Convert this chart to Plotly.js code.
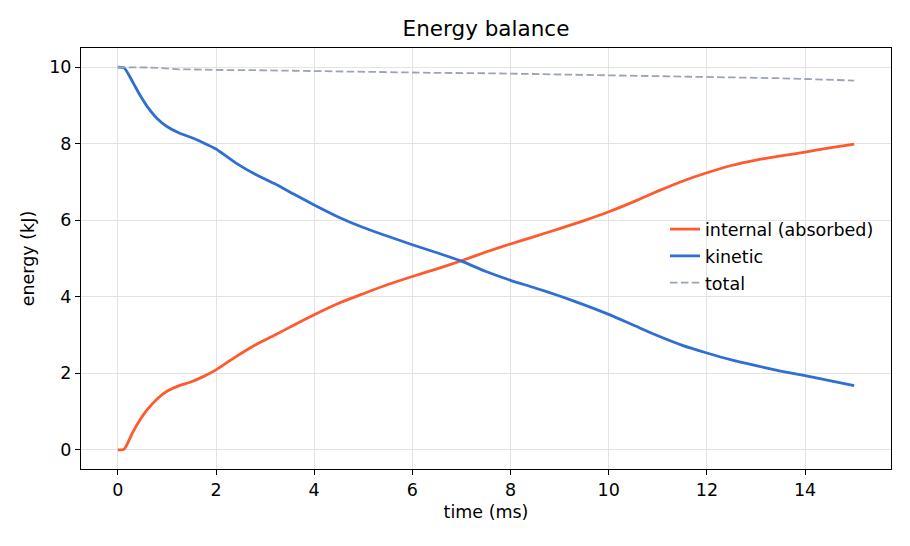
<!DOCTYPE html>
<html>
<head>
<meta charset="utf-8">
<script src="https://cdn.plot.ly/plotly-3.0.1.min.js"></script>
<style>
  body { margin: 0; background: #fff; }
  #chart { width: 910px; height: 546px; }
</style>
</head>
<body>
<div id="chart"></div>
<script>
// time in ms
const timeMs = [0, 0.13, 0.3, 0.45, 0.6, 0.8, 1.0, 1.25, 1.5, 1.75, 2, 2.4, 2.8, 3.2, 3.6, 4,
	4.5, 5, 5.5, 6, 6.5, 7, 7.5, 8, 8.5, 9, 9.5, 10, 10.5, 11, 11.5, 12, 12.5, 13, 13.5, 14, 14.5, 15];

// energies in kJ
const internalKJ = [0, 0.02, 0.45, 0.78, 1.05, 1.33, 1.53, 1.68, 1.78, 1.92, 2.09, 2.43, 2.74, 3.0, 3.27, 3.53,
	3.83, 4.08, 4.32, 4.53, 4.73, 4.94, 5.17, 5.38, 5.58, 5.78, 5.99, 6.22, 6.48, 6.76, 7.02, 7.24, 7.43, 7.57, 7.68, 7.78, 7.89, 7.99];
const kineticKJ = [10, 9.98, 9.62, 9.27, 8.97, 8.66, 8.45, 8.28, 8.16, 8.02, 7.86, 7.5, 7.2, 6.95, 6.67, 6.40,
	6.08, 5.81, 5.58, 5.36, 5.15, 4.93, 4.66, 4.43, 4.23, 4.02, 3.79, 3.54, 3.26, 2.98, 2.73, 2.53, 2.35, 2.2, 2.06, 1.94, 1.81, 1.68];
const totalKJ = [10, 10, 10, 10, 9.99, 9.98, 9.96, 9.94, 9.94, 9.93, 9.93, 9.92, 9.92, 9.91, 9.91, 9.90,
	9.89, 9.88, 9.87, 9.86, 9.85, 9.85, 9.84, 9.83, 9.82, 9.82, 9.81, 9.80, 9.79, 9.78, 9.77, 9.76, 9.74, 9.73, 9.71, 9.69, 9.67, 9.65];

const xTicks = [0, 2, 4, 6, 8, 10, 12, 14];
const yTicks = [0, 2, 4, 6, 8, 10];

let internalTrace = {
	x: timeMs, y: internalKJ,
	type: 'scatter', mode: 'lines',
	name: 'internal (absorbed)', legendgroup: 'a',
	line: {color: '#ff5a2d', width: 2.8, shape: 'spline', smoothing: 0.6}
};
let kineticTrace = {
	x: timeMs, y: kineticKJ,
	type: 'scatter', mode: 'lines',
	name: 'kinetic', legendgroup: 'b',
	line: {color: '#2f6fd4', width: 2.8, shape: 'spline', smoothing: 0.6}
};
let totalTrace = {
	x: timeMs, y: totalKJ,
	type: 'scatter', mode: 'lines',
	name: 'total', legendgroup: 'c',
	line: {color: '#9ba3b7', width: 1.8, dash: '7.5px,3.4px'}
};

const font = 'DejaVu Sans, sans-serif';

let layout = {
	width: 910, height: 546,
	paper_bgcolor: '#ffffff', plot_bgcolor: '#ffffff',
	margin: {l: 81, r: 19, t: 48, b: 77},
	font: {family: font, size: 17.5, color: '#000'},
	title: {text: 'Energy balance', font: {family: font, size: 21.5, color: '#000'},
		xref: 'paper', x: 0.5, xanchor: 'center', y: 0.947, yanchor: 'middle'},
	showlegend: true,
	legend: {
		x: 0.721, xanchor: 'left', y: 0.612, yanchor: 'top',
		bgcolor: 'rgba(0,0,0,0)', borderwidth: 0,
		font: {family: font, size: 17.5, color: '#000'},
		traceorder: 'grouped', tracegroupgap: 1
	},
	xaxis: {
		range: [-0.75, 15.75],
		tickvals: xTicks, ticktext: xTicks.map(String),
		ticks: 'outside', ticklen: 5, tickwidth: 1, tickcolor: '#000',
		showline: true, linecolor: '#000', linewidth: 1, mirror: true,
		showgrid: true, gridcolor: '#e3e3e3', gridwidth: 1,
		zeroline: false,
		tickfont: {family: font, size: 17.5},
		title: {text: 'time (ms)', font: {family: font, size: 17.5}, standoff: 6}
	},
	yaxis: {
		range: [-0.5, 10.5],
		tickvals: yTicks, ticktext: yTicks.map(String),
		ticks: 'outside', ticklen: 5, tickwidth: 1, tickcolor: '#000',
		showline: true, linecolor: '#000', linewidth: 1, mirror: true,
		showgrid: true, gridcolor: '#e3e3e3', gridwidth: 1,
		zeroline: false,
		tickfont: {family: font, size: 17.5},
		title: {text: 'energy (kJ)', font: {family: font, size: 17.5}, standoff: 10}
	}
};

Plotly.newPlot('chart', [internalTrace, kineticTrace, totalTrace], layout, {displayModeBar: false, staticPlot: true});
</script>
</body>
</html>
